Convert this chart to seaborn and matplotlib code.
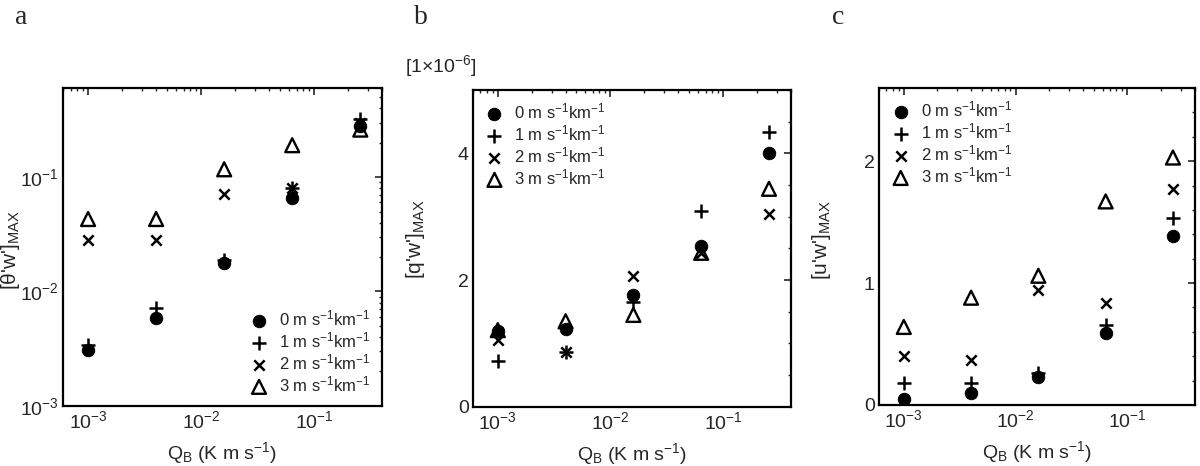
"""Maximum fluxes vs surface buoyancy flux Q_B for four shear values."""

import matplotlib.pyplot as plt
import matplotlib.ticker as mticker
import pandas as pd
import seaborn as sns

QB = [1e-3, 4e-3, 1.6e-2, 6.4e-2, 0.256]
SHEAR_LABELS = [
    r"0 m s$^{-1}$km$^{-1}$",
    r"1 m s$^{-1}$km$^{-1}$",
    r"2 m s$^{-1}$km$^{-1}$",
    r"3 m s$^{-1}$km$^{-1}$",
]

# panel a: [theta'w']_MAX
theta_s0 = [0.0031, 0.0059, 0.0176, 0.065, 0.28]
theta_s1 = [0.0034, 0.0072, 0.019, 0.080, 0.32]
theta_s2 = [0.028, 0.028, 0.071, 0.081, 0.30]
theta_s3 = [0.043, 0.043, 0.117, 0.19, 0.26]

# panel b: [q'w']_MAX (x 1e-6)
q_s0 = [1.19, 1.22, 1.77, 2.53, 4.00]
q_s1 = [0.73, 0.87, 1.66, 3.09, 4.33]
q_s2 = [1.06, 0.86, 2.07, 2.42, 3.04]
q_s3 = [1.21, 1.35, 1.45, 2.43, 3.44]

# panel c: [u'w']_MAX
u_s0 = [0.05, 0.10, 0.23, 0.59, 1.39]
u_s1 = [0.18, 0.18, 0.26, 0.66, 1.53]
u_s2 = [0.40, 0.37, 0.94, 0.84, 1.77]
u_s3 = [0.64, 0.88, 1.06, 1.67, 2.03]

MARKERS = [
    dict(marker="o", color="black", s=80, edgecolor="black"),
    dict(marker="+", color="black", s=110, linewidth=1.8),
    dict(marker="x", color="black", s=55, linewidth=1.8),
    dict(marker="^", facecolor="none", edgecolor="black", s=100, linewidth=1.7),
]


def to_long(series):
    rows = []
    for label, values in zip(SHEAR_LABELS, series):
        for qb, v in zip(QB, values):
            rows.append({"QB": qb, "value": v, "shear": label})
    return pd.DataFrame(rows)


def draw_panel(ax, series, legend_loc, legend_anchor):
    df = to_long(series)
    for label, style in zip(SHEAR_LABELS, MARKERS):
        sub = df[df["shear"] == label]
        sns.scatterplot(data=sub, x="QB", y="value", label=label, ax=ax, **style)
    ax.set_xscale("log")
    ax.set_xlim(6e-4, 0.4)
    ax.xaxis.set_major_locator(mticker.LogLocator(base=10, numticks=10))
    ax.xaxis.set_minor_locator(mticker.LogLocator(base=10, subs=range(2, 10), numticks=20))
    ax.xaxis.set_minor_formatter(mticker.NullFormatter())
    ax.tick_params(which="both", direction="in", top=True, right=True, labelsize=14)
    ax.tick_params(which="major", length=5, width=1.2, pad=3)
    ax.tick_params(which="minor", length=2.5, width=1)
    for sp in ax.spines.values():
        sp.set_linewidth(1.6)
        sp.set_color("black")
    ax.set_xlabel(r"Q$_\mathrm{B}$ (K m s$^{-1}$)", fontsize=14, labelpad=6)
    ax.legend(loc=legend_loc, bbox_to_anchor=legend_anchor, frameon=False, fontsize=12,
              handletextpad=0.6, labelspacing=0.12, borderaxespad=0.3, handlelength=1.2)


def main() -> None:
    sns.set_style("white")
    plt.rcParams["font.family"] = ["Liberation Sans", "DejaVu Sans"]
    plt.rcParams["mathtext.fontset"] = "custom"
    plt.rcParams["mathtext.rm"] = "Liberation Sans"
    plt.rcParams["mathtext.it"] = "Liberation Sans:italic"
    plt.rcParams["mathtext.default"] = "regular"

    fig = plt.figure(figsize=(12, 4.66), dpi=100)
    ax_a = fig.add_axes([0.0525, 0.129, 0.266, 0.682])
    ax_b = fig.add_axes([0.394, 0.127, 0.265, 0.680])
    ax_c = fig.add_axes([0.7325, 0.131, 0.263, 0.680])

    # a
    draw_panel(ax_a, [theta_s0, theta_s1, theta_s2, theta_s3], "lower right", (1.0, 0.0))
    ax_a.set_yscale("log")
    ax_a.set_ylim(1e-3, 0.6)
    ax_a.yaxis.set_minor_locator(mticker.LogLocator(base=10, subs=range(2, 10), numticks=20))
    ax_a.yaxis.set_minor_formatter(mticker.NullFormatter())
    ax_a.set_ylabel(r"[θ'w']$_\mathrm{MAX}$", fontsize=15)
    ax_a.yaxis.set_label_coords(-0.128, 0.49)

    # b
    draw_panel(ax_b, [q_s0, q_s1, q_s2, q_s3], "upper left", (0.0, 1.0))
    ax_b.set_ylim(0, 5)
    ax_b.set_yticks([0, 2, 4])
    ax_b.yaxis.set_minor_locator(mticker.MultipleLocator(0.5))
    ax_b.set_ylabel(r"[q'w']$_\mathrm{MAX}$", fontsize=15)
    ax_b.yaxis.set_label_coords(-0.145, 0.53)
    fig.text(405 / 1200, 1 - 66 / 466, r"[1$\times$10$^{-6}$]", fontsize=14, va="center", ha="left")

    # c
    draw_panel(ax_c, [u_s0, u_s1, u_s2, u_s3], "upper left", (0.0, 1.0))
    ax_c.set_ylim(0, 2.6)
    ax_c.set_yticks([0, 1, 2])
    ax_c.yaxis.set_minor_locator(mticker.MultipleLocator(0.2))
    ax_c.set_ylabel(r"[u'w']$_\mathrm{MAX}$", fontsize=15)
    ax_c.yaxis.set_label_coords(-0.146, 0.52)

    for letter, x in [("a", 15), ("b", 414), ("c", 832)]:
        fig.text(x / 1200, 1 - 17 / 466, letter, fontsize=20, family="Liberation Serif",
                 va="center", ha="left")

    fig.savefig("out.png", dpi=100)
    plt.close(fig)


if __name__ == "__main__":
    main()
